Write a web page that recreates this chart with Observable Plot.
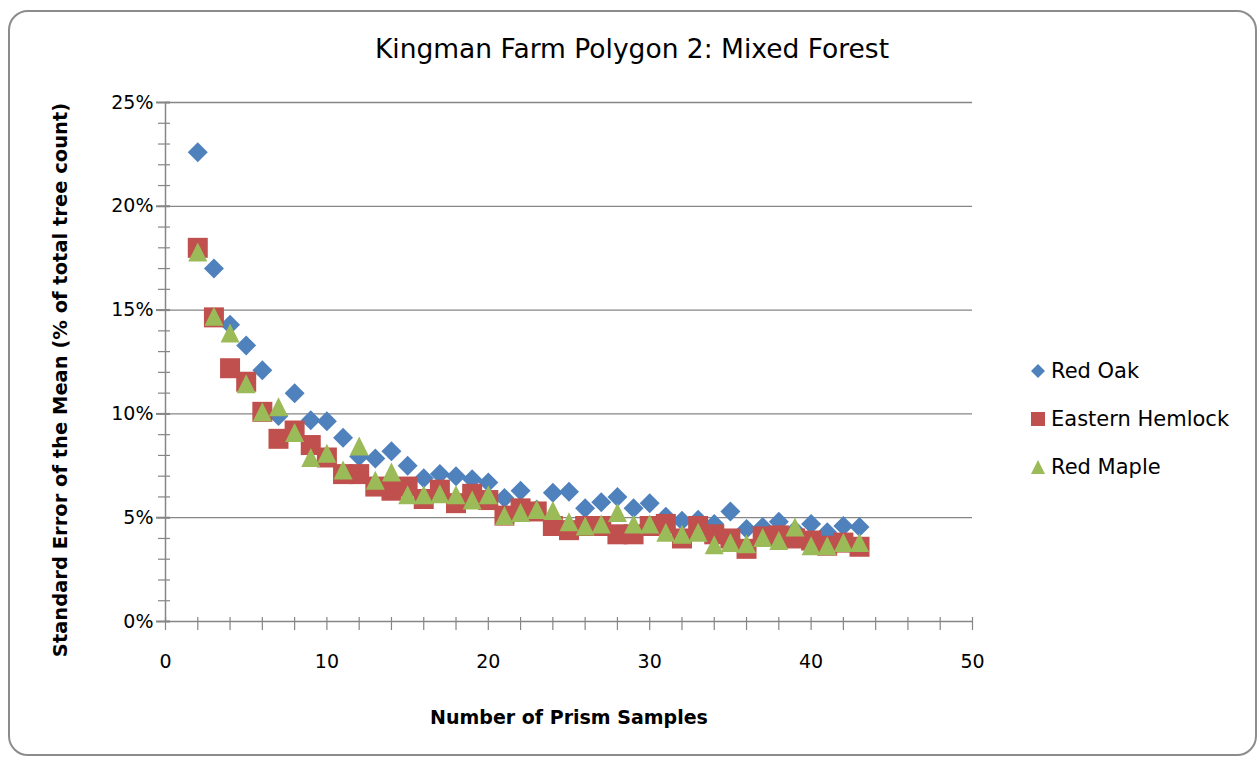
<!DOCTYPE html>
<html><head><meta charset="utf-8">
<script src="https://cdn.jsdelivr.net/npm/d3@7"></script>
<script src="https://cdn.jsdelivr.net/npm/@observablehq/plot@0.6"></script>
<style>
body{margin:0;background:#fff;}
#wrap{position:relative;width:1259px;height:759px;overflow:hidden;font-family:"DejaVu Sans",sans-serif;background:#fff;}
#border{position:absolute;left:8px;top:10px;width:1249px;height:746px;border:2px solid #8c8c8c;border-radius:20px;box-sizing:border-box;pointer-events:none;}
#title{position:absolute;left:0;top:33px;width:1264px;text-align:center;font-size:26.5px;font-weight:normal;color:#000;line-height:32px;}
#chart{position:absolute;left:0;top:0;}
#legend{position:absolute;left:1029px;top:347px;font-size:21px;color:#000;}
#legend .row{height:48px;display:flex;align-items:center;}
#legend svg{margin-right:4px;}
</style></head>
<body>
<div id="wrap">
  <div id="chart"></div>
  <div id="title">Kingman Farm Polygon 2: Mixed Forest</div>
  <div id="legend"></div>
  <div id="border"></div>
</div>
<script>
const samples = d3.range(2, 44);
const redOak = [22.6,17.0,14.3,13.3,12.1,9.9,11.0,9.7,9.65,8.85,7.95,7.85,8.2,7.5,6.9,7.1,7.0,6.85,6.7,5.95,6.3,5.4,6.2,6.25,5.45,5.75,6.0,5.45,5.7,5.05,4.85,4.9,4.7,5.3,4.45,4.55,4.8,4.4,4.7,4.3,4.6,4.55];
const easternHemlock = [18.0,14.65,12.2,11.55,10.1,8.8,9.2,8.5,7.9,7.1,7.1,6.5,6.3,6.5,5.9,6.35,5.7,6.15,5.85,5.1,5.45,5.3,4.6,4.4,4.6,4.6,4.2,4.2,4.6,4.7,4.0,4.6,4.2,4.0,3.5,4.1,4.15,4.0,3.9,3.65,3.8,3.6];
const redMaple = [17.8,14.7,13.9,11.45,10.1,10.35,9.1,7.9,8.1,7.3,8.45,6.8,7.2,6.1,6.1,6.15,6.1,5.85,6.1,5.1,5.25,5.4,5.35,4.8,4.6,4.7,5.25,4.7,4.7,4.3,4.2,4.3,3.7,3.8,3.75,4.05,3.9,4.55,3.65,3.65,3.8,3.8];
const seriesNames = ["Red Oak", "Eastern Hemlock", "Red Maple"];
const seriesColors = ["#4F81BD", "#C0504D", "#9BBB59"];
const xTicksMajor = [0, 10, 20, 30, 40, 50];
const xTicksMinor = d3.range(0, 51, 2);
const yTicksMajor = [0, 5, 10, 15, 20, 25];
const yTicksMinor = d3.range(0, 26, 1);
const xTitle = "Number of Prism Samples";
const yTitle = "Standard Error of the Mean (% of total tree count)";

// Excel-like marker shapes (r = half width)
const diamond = {draw(ctx, size){const r=Math.sqrt(size/Math.PI);ctx.moveTo(0,-r);ctx.lineTo(r,0);ctx.lineTo(0,r);ctx.lineTo(-r,0);ctx.closePath();}};
const square = {draw(ctx, size){const r=Math.sqrt(size/Math.PI);ctx.rect(-r,-r,2*r,2*r);}};
const triangle = {draw(ctx, size){const r=Math.sqrt(size/Math.PI);ctx.moveTo(0,-r);ctx.lineTo(r,r);ctx.lineTo(-r,r);ctx.closePath();}};
const symbols = [diamond, square, triangle];
const radii = [10, 10, 9.5];

const seriesValues = [redOak, easternHemlock, redMaple];
const tables = seriesValues.map(vals => samples.map((s, i) => ({x: s, y: vals[i]})));

const axisColor = "#868686";
const chart = Plot.plot({
  width: 1259, height: 759,
  marginLeft: 165, marginRight: 287, marginTop: 102, marginBottom: 138,
  x: {domain: [0, 50]},
  y: {domain: [0, 25]},
  style: {fontFamily: "DejaVu Sans, sans-serif", fontSize: "19px", color: "#000", background: "transparent", overflow: "visible"},
  marks: [
    Plot.gridY(yTicksMajor.filter(d => d > 0), {stroke: axisColor, strokeOpacity: 1, strokeWidth: 1.3}),
    Plot.ruleX([0], {stroke: axisColor, strokeWidth: 1.5}),
    Plot.ruleY([0], {stroke: axisColor, strokeWidth: 1.5}),
    Plot.axisY(yTicksMinor, {tickSize: 12, dx: 5, stroke: axisColor, strokeWidth: 1.2, tickFormat: () => "", label: null}),
    Plot.axisY(yTicksMajor, {tickSize: 14, dx: 5, stroke: axisColor, strokeWidth: 2, tickFormat: () => "", label: null}),
    Plot.axisX(xTicksMinor, {tickSize: 13, dy: -4, stroke: axisColor, strokeWidth: 1.2, tickFormat: () => "", label: null}),
    Plot.axisY(yTicksMajor, {tickSize: 0, tickPadding: 12, tickFormat: d => d + "%", fill: "#000", fontSize: 19, label: null}),
    Plot.axisX(xTicksMajor, {tickSize: 0, tickPadding: 33, tickFormat: d => String(d), fill: "#000", fontSize: 19, label: null}),
    ...tables.map((t, i) => Plot.dot(t, {x: "x", y: "y", symbol: symbols[i], r: radii[i], fill: seriesColors[i], stroke: null})),
    Plot.text([yTitle], {frameAnchor: "left", textAnchor: "middle", lineAnchor: "middle", rotate: -90, dx: -105, dy: 18, fontWeight: "bold", fontSize: 19.5, fill: "#000"}),
    Plot.text([xTitle], {frameAnchor: "bottom", textAnchor: "middle", lineAnchor: "middle", dy: 96, fontWeight: "bold", fontSize: 19, fill: "#000"})
  ]
});
document.getElementById("chart").appendChild(chart);

// legend
const legend = document.getElementById("legend");
seriesNames.forEach((name, i) => {
  const row = document.createElement("div");
  row.className = "row";
  const s = d3.create("svg").attr("width", 18).attr("height", 18);
  const p = d3.path();
  symbols[i].draw(p, Math.PI * 7 * 7);
  s.append("path").attr("d", p.toString()).attr("transform", "translate(9,9)").attr("fill", seriesColors[i]);
  row.appendChild(s.node());
  const t = document.createElement("span");
  t.textContent = name;
  row.appendChild(t);
  legend.appendChild(row);
});
</script>
</body></html>
